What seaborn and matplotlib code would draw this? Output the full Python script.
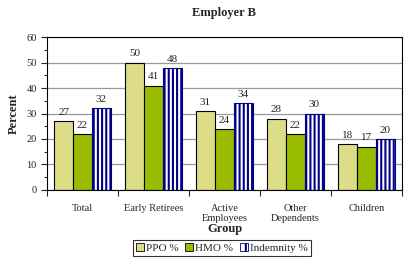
import pandas as pd
import seaborn as sns
import matplotlib.pyplot as plt
from matplotlib.ticker import MultipleLocator
from matplotlib.patches import Patch

groups = ['Total', 'Early Retirees', 'Active\nEmployees', 'Other\nDependents', 'Children']
ppo = [27, 50, 31, 28, 18]
hmo = [22, 41, 24, 22, 17]
indemnity = [32, 48, 34, 30, 20]
series = ['PPO %', 'HMO %', 'Indemnity %']

df = pd.DataFrame({
    'Group': groups * 3,
    'Plan': [s for s in series for _ in groups],
    'Percent': ppo + hmo + indemnity,
})

sns.set_style('white')
plt.rcParams['font.family'] = ['Liberation Serif', 'DejaVu Serif']
plt.rcParams['hatch.linewidth'] = 1.5

fig = plt.figure(figsize=(4.13, 2.69), dpi=100)
ax = fig.add_axes([0.114, 0.294, 0.859, 0.568])

colors = ['#dddd88', '#99bb00', '#ffffff']
sns.barplot(data=df, x='Group', y='Percent', hue='Plan', palette=colors,
            width=0.8, ax=ax, legend=False, saturation=1)

# black outlines, navy vertical stripes on the indemnity bars
for i, cont in enumerate(ax.containers):
    for bar in cont:
        if i == 2:
            bar.set_edgecolor('#000088')
            bar.set_hatch('||||')
        else:
            bar.set_edgecolor('black')
        bar.set_linewidth(0.8)
    ax.bar_label(cont, padding=3, fontsize=8)

ax.set_ylim(0, 60)
ax.set_xlim(-0.5, 4.5)
ax.yaxis.set_major_locator(MultipleLocator(10))
ax.yaxis.set_minor_locator(MultipleLocator(5))
ax.grid(axis='y', color='#999999', linewidth=0.9)
ax.set_axisbelow(True)
ax.set_xticks(range(len(groups)))
ax.set_xticks([x + 0.5 for x in range(-1, len(groups))], minor=True)
ax.set_xticklabels(groups, fontsize=7.5, linespacing=1.1)
ax.tick_params(axis='x', which='major', length=0, pad=10)
ax.tick_params(axis='x', which='minor', length=4, width=0.8, direction='out', bottom=True)
ax.tick_params(axis='y', which='major', length=4, width=0.8, direction='out', left=True, labelsize=7.5)
ax.tick_params(axis='y', which='minor', length=2.5, width=0.8, direction='out', left=True)
for s in ax.spines.values():
    s.set_color('black')
    s.set_linewidth(0.8)

ax.set_xlabel('Group', fontsize=9, fontweight='bold', labelpad=0)
ax.set_ylabel('Percent', fontsize=9, fontweight='bold', labelpad=5)
fig.text(0.543, 0.95, 'Employer B', ha='center', va='center', fontsize=9, fontweight='bold')

handles = [Patch(facecolor=colors[0], edgecolor='black', linewidth=0.6),
           Patch(facecolor=colors[1], edgecolor='black', linewidth=0.6),
           Patch(facecolor='white', edgecolor='#000088', hatch='||', linewidth=0.6)]
leg = fig.legend(handles, series, loc='center', bbox_to_anchor=(0.537, 0.078), ncol=3,
                 fontsize=8, frameon=True, fancybox=False, handlelength=0.7, handleheight=0.7,
                 handletextpad=0.2, columnspacing=0.6, borderpad=0.3, borderaxespad=0)
leg.get_frame().set_edgecolor('black')
leg.get_frame().set_linewidth(0.8)

fig.savefig('out.png', dpi=100)
